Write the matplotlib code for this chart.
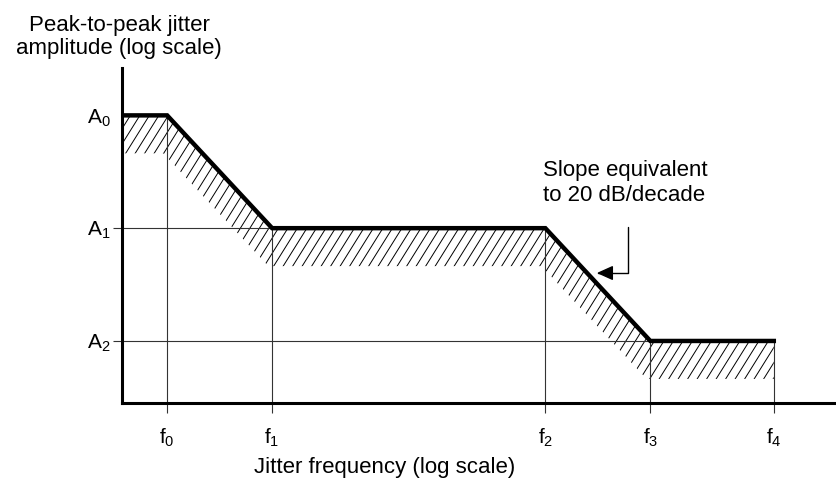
import numpy as np
import matplotlib.pyplot as plt
from matplotlib.collections import LineCollection

plt.rcParams['font.family'] = ['Liberation Sans', 'DejaVu Sans']
plt.rcParams['mathtext.fontset'] = 'custom'
plt.rcParams['mathtext.rm'] = 'Liberation Sans'
plt.rcParams['mathtext.it'] = 'Liberation Sans:italic'
plt.rcParams['mathtext.default'] = 'regular'

# corner frequencies and amplitudes of the jitter tolerance mask (log-log)
freqs = [1, 10, 4000, 40000, 600000]
freq_labels = [r'f$_0$', r'f$_1$', r'f$_2$', r'f$_3$', r'f$_4$']
amps = [100, 10, 1]
amp_labels = [r'A$_0$', r'A$_1$', r'A$_2$']
mask_amp = [100, 10, 10, 1, 1]   # mask level at each corner frequency
band = 2.17        # depth of hatched zone under the mask
band_shift = 0.92  # hatched zone slightly shifted to lower frequency

xmin, xmax = 10**-0.43, 10**6.38
ymin, ymax = 10**-0.55, 10**2.42

fig = plt.figure(figsize=(8.37, 4.88), dpi=100)
ax = fig.add_axes([122/837, 85/488, 715/837, 335/488])
ax.set_xscale('log')
ax.set_yscale('log')

curve_f = [xmin] + freqs
curve_a = [mask_amp[0]] + mask_amp
lower_f = [xmin] + [f * band_shift for f in freqs[:-1]] + [freqs[-1]]
lower_a = [a / band for a in curve_a]

# hatched zone, drawn as slanted lines clipped to the polygon
poly = ax.fill(curve_f + lower_f[::-1], curve_a + lower_a[::-1],
               facecolor='none', edgecolor='none')[0]
w_px, h_px = 715, 335
run = h_px / 1.6
offsets = np.arange(-run, w_px, 9.5)
segs = [[(c / w_px, 0), ((c + run) / w_px, 1)] for c in offsets]
lc = LineCollection(segs, colors='black', linewidths=0.7, transform=ax.transAxes)
ax.add_collection(lc, autolim=False)
lc.set_clip_path(poly)

# guide lines
ax.vlines(freqs, ymin, mask_amp, colors='#333333', lw=0.8)
ax.hlines(amps[1:], xmin, [freqs[mask_amp.index(a)] for a in amps[1:]],
          colors='#333333', lw=0.8)

ax.plot(curve_f, curve_a, color='black', lw=3.2, solid_joinstyle='miter', zorder=5)

ax.set_xlim(xmin, xmax)
ax.set_ylim(ymin, ymax)

for s in ['top', 'right']:
    ax.spines[s].set_visible(False)
for s in ['left', 'bottom']:
    ax.spines[s].set_linewidth(2.2)

ax.set_xticks(freqs, freq_labels)
ax.set_yticks(amps, amp_labels)
ax.minorticks_off()
ax.tick_params(axis='x', length=7.2, width=0.8, color='#333333', pad=10, labelsize=15)
ax.tick_params(axis='y', length=6.5, width=0.8, color='#333333', pad=1.5, labelsize=15)
for t, loc in zip(ax.yaxis.get_major_ticks(), ax.get_yticks()):
    if loc == amps[0]:
        t.tick1line.set_visible(False)

ax.annotate('', xy=(0.664, 0.388), xytext=(0.708, 0.525), xycoords='axes fraction',
            arrowprops=dict(arrowstyle='-|>,head_length=1.0,head_width=0.45',
                            connectionstyle='angle,angleA=90,angleB=0,rad=0',
                            color='black', lw=1, mutation_scale=10,
                            shrinkA=0, shrinkB=0))
ax.text(0.589, 0.724, 'Slope equivalent\nto 20 dB/decade', transform=ax.transAxes,
        ha='left', va='top', fontsize=16)

fig.text(119/837, 1 - 37/488, 'Peak-to-peak jitter\namplitude (log scale)',
         ha='center', va='center', fontsize=16, linespacing=1.1)
fig.text(385/837, 1 - 468/488, 'Jitter frequency (log scale)',
         ha='center', va='center', fontsize=16)

fig.savefig('out.png', dpi=100)
